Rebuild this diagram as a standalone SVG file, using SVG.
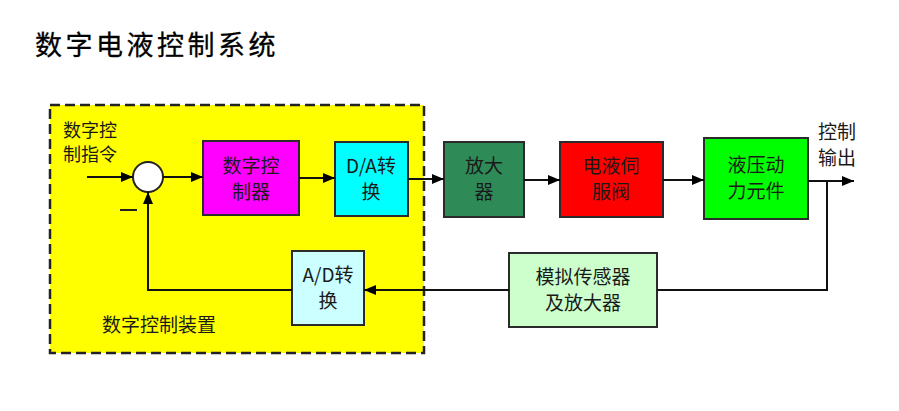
<svg xmlns="http://www.w3.org/2000/svg" width="899" height="411" viewBox="0 0 899 411">
<style>
.t{font-family:"Noto Sans CJK SC","Noto Sans",sans-serif;fill:#1a1a1a;font-size:19px}
.c{text-anchor:middle}
.box{stroke:#2b2b2b;stroke-width:2}
.ln{stroke:#111;stroke-width:2;fill:none}
</style>
<defs>
<marker id="ah" viewBox="0 0 12 10" refX="12" refY="5" markerWidth="12" markerHeight="10" markerUnits="userSpaceOnUse" orient="auto">
<path d="M0,0 L12,5 L0,10 z" fill="#000"/>
</marker>
</defs>
<rect width="899" height="411" fill="#fff"/>
<text x="35" y="55" class="t" style="font-size:27px;letter-spacing:3.5px;fill:#000;stroke:#000;stroke-width:0.3px">数字电液控制系统</text>
<g id="controller-device">
<rect x="50" y="105" width="374" height="248" fill="#ffff00" stroke="#222" stroke-width="2.5" stroke-dasharray="10,5"/>
<text x="102" y="332" class="t">数字控制装置</text>
</g>
<g id="command-label">
<text x="63" y="137" class="t" style="font-size:18px">数字控</text>
<text x="63" y="161" class="t" style="font-size:18px">制指令</text>
</g>
<g id="sum">
<circle cx="148" cy="177" r="15" fill="#fff" stroke="#222" stroke-width="2"/>
<line x1="120" y1="210" x2="137" y2="210" stroke="#222" stroke-width="2"/>
</g>
<g id="digital-controller">
<rect x="203" y="141" width="96" height="74" fill="#ff00ff" class="box"/>
<text x="251" y="173" class="t c">数字控</text>
<text x="251" y="199" class="t c">制器</text>
</g>
<g id="da">
<rect x="335" y="142" width="73" height="74" fill="#00ffff" class="box"/>
<text x="371" y="173" class="t c">D/A转</text>
<text x="371" y="199" class="t c">换</text>
</g>
<g id="amp">
<rect x="444" y="142" width="80" height="75" fill="#2e8b57" class="box"/>
<text x="484" y="173" class="t c">放大</text>
<text x="484" y="199" class="t c">器</text>
</g>
<g id="servo-valve">
<rect x="560" y="142" width="103" height="75" fill="#ff0000" class="box"/>
<text x="611" y="173" class="t c">电液伺</text>
<text x="611" y="199" class="t c">服阀</text>
</g>
<g id="actuator">
<rect x="704" y="138" width="104" height="81" fill="#00ff00" class="box"/>
<text x="756" y="172" class="t c">液压动</text>
<text x="756" y="198" class="t c">力元件</text>
</g>
<g id="output-label">
<text x="818" y="139" class="t">控制</text>
<text x="818" y="165" class="t">输出</text>
</g>
<g id="sensor">
<rect x="509" y="253" width="148" height="74" fill="#ccffcc" class="box"/>
<text x="583" y="284" class="t c">模拟传感器</text>
<text x="583" y="310" class="t c">及放大器</text>
</g>
<g id="ad">
<rect x="292" y="251" width="72" height="74" fill="#ccffff" class="box"/>
<text x="328" y="282" class="t c">A/D转</text>
<text x="328" y="308" class="t c">换</text>
</g>
<g id="connectors">
<line x1="87" y1="177" x2="133" y2="177" class="ln" marker-end="url(#ah)"/>
<line x1="163" y1="177" x2="203" y2="177" class="ln" marker-end="url(#ah)"/>
<line x1="299" y1="178" x2="335" y2="178" class="ln" marker-end="url(#ah)"/>
<line x1="408" y1="179" x2="444" y2="179" class="ln" marker-end="url(#ah)"/>
<line x1="524" y1="180" x2="560" y2="180" class="ln" marker-end="url(#ah)"/>
<line x1="663" y1="180" x2="704" y2="180" class="ln" marker-end="url(#ah)"/>
<line x1="808" y1="181" x2="854" y2="181" class="ln" marker-end="url(#ah)"/>
<polyline points="827,181 827,290 657,290" class="ln"/>
<line x1="509" y1="290" x2="364" y2="290" class="ln" marker-end="url(#ah)"/>
<polyline points="292,290 148,290 148,192" class="ln" marker-end="url(#ah)"/>
</g>
</svg>
